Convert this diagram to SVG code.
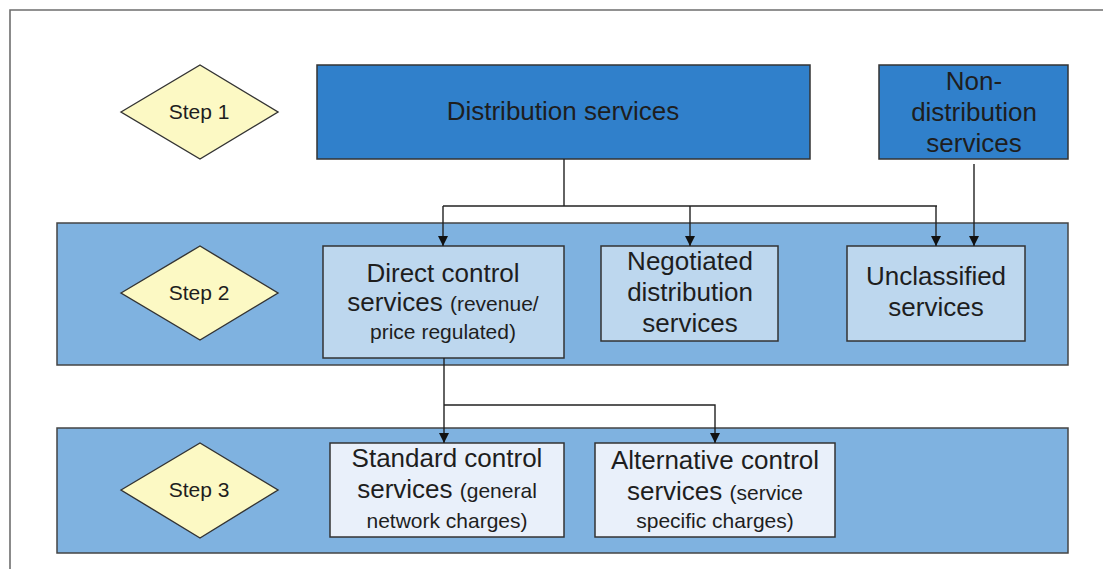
<svg xmlns="http://www.w3.org/2000/svg" width="1103" height="569" viewBox="0 0 1103 569">
<style>
text{font-family:"Liberation Sans",Arial,sans-serif;fill:#1e1e1e;text-anchor:middle}
.big{font-size:26px}
.sm{font-size:21px}
.step{font-size:21px}
.dia{fill:#fcf9c4;stroke:#333;stroke-width:1.4}
.top{fill:#3080cb;stroke:#333;stroke-width:1.5}
.band{fill:#7fb2e0;stroke:#444;stroke-width:1.5}
.mid{fill:#bdd7ee;stroke:#333;stroke-width:1.5}
.low{fill:#e9f0fa;stroke:#333;stroke-width:1.5}
.con{fill:none;stroke:#222;stroke-width:1.4}
</style>
<defs>
<marker id="arr" viewBox="0 0 10 10" refX="10" refY="5" markerWidth="11" markerHeight="10" markerUnits="userSpaceOnUse" orient="auto">
<path d="M0,0 L10,5 L0,10 Z" fill="#111"/>
</marker>
</defs>
<rect width="1103" height="569" fill="#fff"/>
<path d="M10,569 V10 H1103" fill="none" stroke="#6e6e6e" stroke-width="1.6"/>
<g id="band2"><rect class="band" x="57" y="223" width="1011" height="142"/></g>
<g id="band3"><rect class="band" x="57" y="428" width="1011" height="125"/></g>
<g id="step1"><polygon class="dia" points="121,112 200,65 278,112 200,159"/><text class="step" x="199" y="119">Step 1</text></g>
<g id="step2"><polygon class="dia" points="121,293 200,246 278,293 200,340"/><text class="step" x="199" y="300">Step 2</text></g>
<g id="step3"><polygon class="dia" points="121,490 200,443 278,490 200,538"/><text class="step" x="199" y="497">Step 3</text></g>
<g id="distribution"><rect class="top" x="317" y="65" width="493" height="94"/><text class="big" x="563" y="120">Distribution services</text></g>
<g id="nondistribution"><rect class="top" x="879" y="65" width="189" height="94"/><text class="big" x="974" y="90">Non-</text><text class="big" x="974" y="121">distribution</text><text class="big" x="974" y="152">services</text></g>
<g id="direct"><rect class="mid" x="323" y="246" width="241" height="112"/><text class="big" x="443" y="282">Direct control</text><text x="443" y="311"><tspan class="big">services </tspan><tspan class="sm">(revenue/</tspan></text><text class="sm" x="443" y="339">price regulated)</text></g>
<g id="negotiated"><rect class="mid" x="601" y="246" width="177" height="95"/><text class="big" x="690" y="270">Negotiated</text><text class="big" x="690" y="301">distribution</text><text class="big" x="690" y="332">services</text></g>
<g id="unclassified"><rect class="mid" x="847" y="246" width="178" height="95"/><text class="big" x="936" y="285">Unclassified</text><text class="big" x="936" y="316">services</text></g>
<g id="standard"><rect class="low" x="330" y="443" width="234" height="94"/><text class="big" x="447" y="467">Standard control</text><text x="447" y="498"><tspan class="big">services </tspan><tspan class="sm">(general</tspan></text><text class="sm" x="447" y="528">network charges)</text></g>
<g id="alternative"><rect class="low" x="595" y="443" width="240" height="94"/><text class="big" x="715" y="469">Alternative control</text><text x="715" y="500"><tspan class="big">services </tspan><tspan class="sm">(service</tspan></text><text class="sm" x="715" y="528">specific charges)</text></g>
<g id="connectors">
<path class="con" d="M564,159 V206"/>
<path class="con" d="M443,206 H937"/>
<path class="con" d="M443,206 V246" marker-end="url(#arr)"/>
<path class="con" d="M690,206 V246" marker-end="url(#arr)"/>
<path class="con" d="M936,206 V246" marker-end="url(#arr)"/>
<path class="con" d="M974,164 V246" marker-end="url(#arr)"/>
<path class="con" d="M444,358 V443" marker-end="url(#arr)"/>
<path class="con" d="M444,405 H715 V443" marker-end="url(#arr)"/>
</g>
</svg>
